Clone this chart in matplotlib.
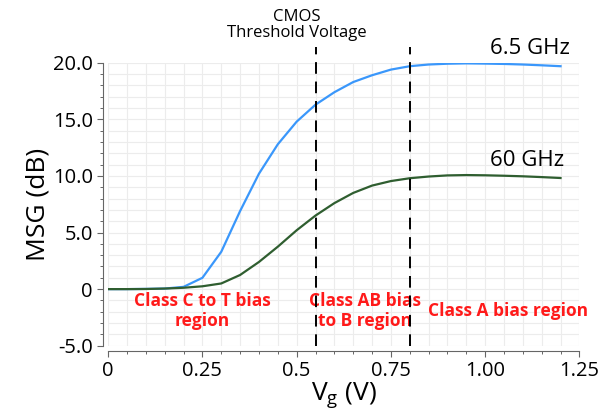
import matplotlib
matplotlib.use('Agg')
import matplotlib.pyplot as plt
from matplotlib.ticker import MultipleLocator, FixedLocator
import numpy as np

plt.rcParams['font.family'] = ['Open Sans', 'DejaVu Sans']

# gate voltage sweep (V) and MSG (dB)
vg = [0.0, 0.05, 0.10, 0.15, 0.20, 0.25, 0.30, 0.35, 0.40, 0.45, 0.50, 0.55, 0.60,
      0.65, 0.70, 0.75, 0.80, 0.85, 0.90, 0.95, 1.00, 1.05, 1.10, 1.15, 1.20]
msg_6g5 = [0.0, 0.0, 0.02, 0.05, 0.2, 1.0, 3.3, 6.9, 10.2, 12.8, 14.8, 16.3, 17.4,
           18.3, 18.9, 19.4, 19.7, 19.85, 19.92, 19.95, 19.93, 19.9, 19.85, 19.78, 19.7]
msg_60g = [0.0, 0.0, 0.01, 0.05, 0.12, 0.25, 0.5, 1.25, 2.4, 3.75, 5.2, 6.5, 7.6,
           8.5, 9.15, 9.55, 9.8, 9.95, 10.05, 10.08, 10.06, 10.02, 9.97, 9.9, 9.82]

thresholds = [0.55, 0.80]
x_ticks = [0, 0.25, 0.5, 0.75, 1.0, 1.25]
x_ticklabels = ['0', '0.25', '0.5', '0.75', '1.00', '1.25']
y_ticks = [-5, 0, 5, 10, 15, 20]
y_ticklabels = ['-5.0', '0', '5.0', '10.0', '15.0', '20.0']

fig = plt.figure(figsize=(6.01, 4.16), dpi=100)
ax = fig.add_axes([0.18, 0.169, 0.784, 0.68])

ax.plot(vg, msg_6g5, color='#3a97fb', lw=1.6, zorder=3)
ax.plot(vg, msg_60g, color='#2f5e30', lw=1.6, zorder=3)

for t in thresholds:
    ax.plot([t, t], [-5, 21.4], color='black', lw=1.4, ls=(0, (6, 4)),
            clip_on=False, zorder=4)

ax.set_xlim(0, 1.25)
ax.set_ylim(-5, 20)
ax.xaxis.set_major_locator(FixedLocator(x_ticks))
ax.set_xticklabels(x_ticklabels)
ax.yaxis.set_major_locator(FixedLocator(y_ticks))
ax.set_yticklabels(y_ticklabels)
ax.xaxis.set_minor_locator(MultipleLocator(0.05))
ax.yaxis.set_minor_locator(MultipleLocator(1))
ax.grid(which='both', color='#ececec', lw=0.8, zorder=0)
ax.tick_params(which='major', length=4, width=0.8, color='#666666', labelsize=14.5,
               pad=3)
ax.tick_params(which='minor', length=2.5, width=0.7, color='#666666')

for side in ['top', 'right']:
    ax.spines[side].set_visible(False)
for side in ['left', 'bottom']:
    ax.spines[side].set_color('#666666')
    ax.spines[side].set_position(('outward', 4))

ax.set_ylabel('MSG (dB)', fontsize=19, labelpad=2)
ax.set_xlabel(r'V$_\mathregular{g}$ (V)', fontsize=19, labelpad=0)

ax.text(0.50, 21.9, 'CMOS\nThreshold Voltage', ha='center', va='bottom',
        fontsize=12, linespacing=1.0)
ax.text(1.225, 20.3, '6.5 GHz', ha='right', va='bottom', fontsize=16)
ax.text(1.21, 10.4, '60 GHz', ha='right', va='bottom', fontsize=16)

red = '#ff1a1a'
ax.text(0.25, -1.9, 'Class C to T bias\nregion', ha='center', va='center',
        color=red, fontsize=12.5, fontweight='bold', linespacing=1.15)
ax.text(0.68, -1.9, 'Class AB bias\nto B region', ha='center', va='center',
        color=red, fontsize=12.5, fontweight='bold', linespacing=1.15)
ax.text(1.06, -1.9, 'Class A bias region', ha='center', va='center',
        color=red, fontsize=12.5, fontweight='bold')

fig.savefig('out.png', dpi=100)
